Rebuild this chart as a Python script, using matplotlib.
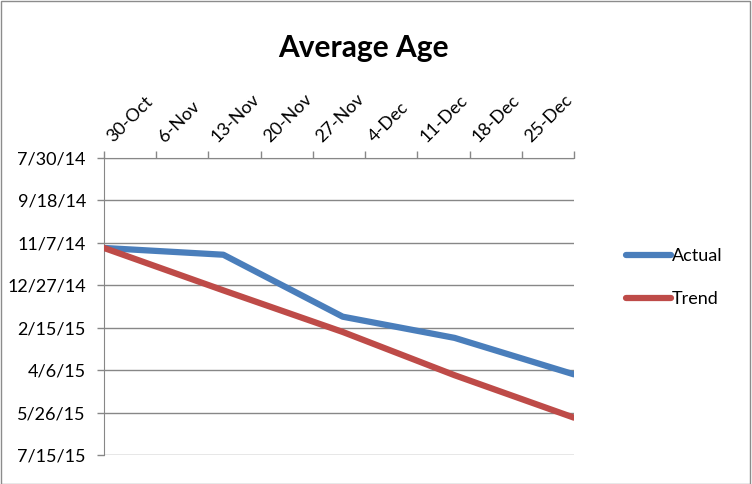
import numpy as np
import matplotlib
matplotlib.use('Agg')
from matplotlib import pyplot as plt
from matplotlib.patches import Rectangle
from datetime import datetime, timedelta

plt.rcParams['font.family'] = ['Lato', 'DejaVu Sans']

# data
actual_x = ['2014-10-30', '2014-11-15', '2014-12-01', '2014-12-16', '2015-01-01']
actual_y = ['2014-11-13', '2014-11-21', '2015-02-02', '2015-02-27', '2015-04-11']
trend_x = ['2014-10-30', '2014-11-15', '2014-12-01', '2014-12-16', '2015-01-01']
trend_y = ['2014-11-13', '2015-01-02', '2015-02-20', '2015-04-12', '2015-06-01']
xtick_labels = ['30-Oct', '6-Nov', '13-Nov', '20-Nov', '27-Nov', '4-Dec',
                '11-Dec', '18-Dec', '25-Dec', '']
ytick_labels = ['7/30/14', '9/18/14', '11/7/14', '12/27/14', '2/15/15',
                '4/6/15', '5/26/15', '7/15/15']


def to_dt(lst):
    return [datetime.strptime(s, '%Y-%m-%d') for s in lst]


def plotter():
    fig = plt.figure(figsize=(7.52, 4.84), dpi=100)
    ax = fig.add_axes([104 / 752, 29 / 484, 470 / 752, 297 / 484])

    grid_c = '#878787'
    ax.plot(to_dt(actual_x), to_dt(actual_y), color='#4A7EBB', lw=4.5,
            solid_capstyle='round', solid_joinstyle='round', label='Actual', zorder=3)
    ax.plot(to_dt(trend_x), to_dt(trend_y), color='#BE4B48', lw=4.5,
            solid_capstyle='round', solid_joinstyle='round', label='Trend', zorder=3)

    x0 = datetime(2014, 10, 30)
    xticks = [x0 + timedelta(days=7 * i) for i in range(len(xtick_labels))]
    ax.set_xlim(xticks[0], xticks[-1])
    ax.set_xticks(xticks)
    ax.set_xticklabels(xtick_labels, rotation=45, ha='left', va='bottom',
                       rotation_mode='default', fontsize=13)
    ax.xaxis.tick_top()

    y0 = datetime(2014, 7, 30)
    yticks = [y0 + timedelta(days=50 * i) for i in range(len(ytick_labels))]
    ax.set_ylim(yticks[-1], yticks[0])
    ax.set_yticks(yticks)
    ax.set_yticklabels(ytick_labels, fontsize=13)

    ax.grid(axis='y', color=grid_c, lw=1)
    ax.set_axisbelow(True)
    for s in ['right', 'bottom']:
        ax.spines[s].set_visible(False)
    ax.spines['left'].set_color(grid_c)
    ax.spines['top'].set_color(grid_c)
    ax.tick_params(axis='both', colors=grid_c, labelcolor='black', length=5, width=1)
    ax.tick_params(axis='x', pad=4)
    ax.tick_params(axis='y', pad=8)

    fig.text(0.483, 0.9, 'Average Age', fontsize=21.5, fontweight='bold',
             ha='center', va='center')

    ax.legend(loc='center left', bbox_to_anchor=(1.075, 0.597), frameon=False,
              fontsize=13, handlelength=2.5, handletextpad=0.05, labelspacing=1.5)

    fig.patches.append(Rectangle((0.001, 0.001), 0.997, 0.997, transform=fig.transFigure,
                                 fill=False, edgecolor='#8c8c8c', lw=1))
    fig.savefig('out.png', dpi=100)


if __name__ == '__main__':
    plotter()
